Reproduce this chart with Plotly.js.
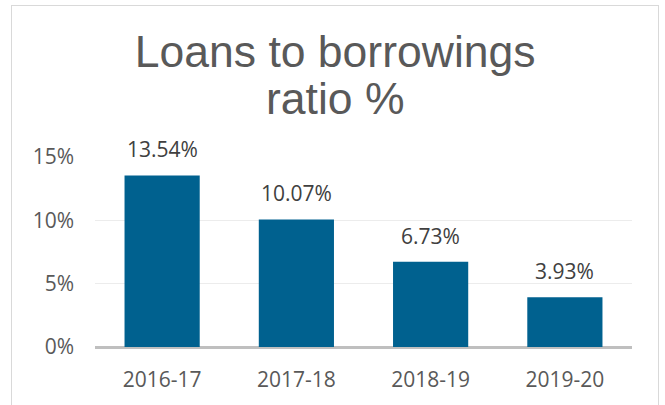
<!DOCTYPE html>
<html>
<head>
<meta charset="utf-8">
<script src="https://cdn.plot.ly/plotly-3.0.1.min.js"></script>
<style>
  html, body { margin: 0; padding: 0; background: #ffffff; }
  #wrap { position: relative; width: 665px; height: 405px; overflow: hidden; }
  #chart { position: absolute; left: 0; top: 0; width: 665px; height: 405px; }
  #frame { position: absolute; left: 11px; top: 5px; width: 646px; height: 420px;
           border: 1px solid #d9d9d9; pointer-events: none; }
</style>
</head>
<body>
<div id="wrap">
  <div id="chart"></div>
  <div id="frame"></div>
</div>
<script>
// Data
const categories = ['2016-17', '2017-18', '2018-19', '2019-20'];
const ratioValues = [13.54, 10.07, 6.73, 3.93];
const dataLabels = ['13.54%', '10.07%', '6.73%', '3.93%'];
const yTickValues = [0, 5, 10, 15];
const yTickLabels = ['0%', '5%', '10%', '15%'];
const titleLine1 = 'Loans to borrowings';
const titleLine2 = 'ratio %';

const tickFont = { family: 'Open Sans, sans-serif', size: 21, color: '#595959' };
const titleFont = { family: 'Liberation Sans, Arial, sans-serif', size: 44.5, color: '#595959' };

const trace = {
  type: 'bar',
  x: categories,
  y: ratioValues,
  marker: { color: '#00618F' },
  hoverinfo: 'x+y'
};

const labelAnnotations = categories.map((c, i) => ({
  x: c, y: ratioValues[i], xref: 'x', yref: 'y',
  text: dataLabels[i], showarrow: false,
  yanchor: 'bottom', yshift: 10,
  font: { family: 'Open Sans, sans-serif', size: 21, color: '#404040' }
}));

const layout = {
  width: 665, height: 405,
  margin: { l: 95, r: 33, t: 157, b: 58, pad: 0 },
  paper_bgcolor: '#ffffff', plot_bgcolor: '#ffffff',
  showlegend: false,
  bargap: 0.44,
  title: {
    text: titleLine1,
    font: titleFont,
    x: 0.504, xanchor: 'center', xref: 'container',
    y: 0.874, yanchor: 'middle', yref: 'container'
  },
  xaxis: {
    type: 'category',
    tickfont: tickFont,
    showgrid: false, showline: false, ticks: '',
    ticklabelstandoff: 18,
    fixedrange: true
  },
  yaxis: {
    range: [0, 15],
    tickvals: yTickValues,
    ticktext: yTickLabels,
    tickfont: tickFont,
    showgrid: true, gridcolor: '#ececec', gridwidth: 1,
    zeroline: true, zerolinecolor: '#bfbfbf', zerolinewidth: 3,
    showline: false, ticks: '',
    ticklabelstandoff: 20,
    fixedrange: true
  },
  annotations: labelAnnotations.concat([{
    text: titleLine2, xref: 'paper', yref: 'paper',
    x: 0.447, y: 1.3105, xanchor: 'center', yanchor: 'middle',
    showarrow: false,
    font: titleFont
  }])
};

Plotly.newPlot('chart', [trace], layout, { displayModeBar: false, staticPlot: true });
</script>
</body>
</html>
